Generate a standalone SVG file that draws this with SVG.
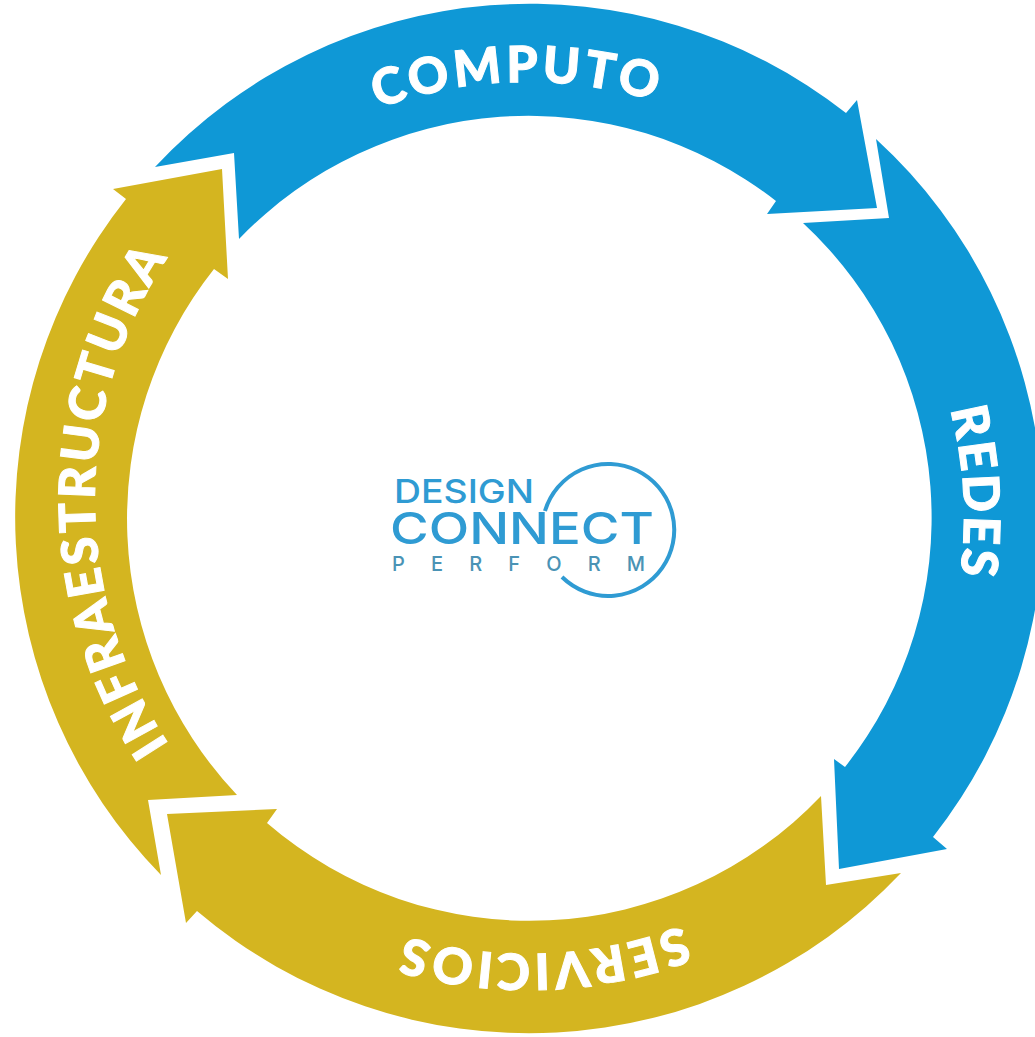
<svg xmlns="http://www.w3.org/2000/svg" width="1035" height="1037" viewBox="0 0 1035 1037">
<style>
.blue{fill:#0f98d6}
.gold{fill:#d4b520}
.label{font-family:Lato,"Open Sans","Liberation Sans",sans-serif;font-weight:900;font-size:50px;fill:#fff;stroke:#fff;stroke-width:1;text-anchor:middle}
.logo{font-family:Inter,"Liberation Sans",sans-serif;font-weight:500;fill:#2f9bd3}
</style>
<defs>
<path id="p1" d="M184.4 249.6A436 436 0 0 1 852 226.3"/>
<path id="p2" d="M788.6 168.4A436 436 0 0 1 827 835.3"/>
<path id="p3" d="M871.6 786.4A436 436 0 0 1 204 809.7"/>
<path id="p4" d="M384.5 913.5A440 440 0 0 1 384.5 86.5"/>
</defs>
<rect width="1035" height="1037" fill="#fff"/>
<g id="connectors">
<path class="blue" d="M155 167A512 512 0 0 1 846 113L857 100L877 208L767 214L776 201A402 402 0 0 0 239 239L234 153Z"/>
<path class="blue" d="M876 139A515 515 0 0 1 933 837L947 849L839 869L834 759L845 767A402 402 0 0 0 803 223L889 218Z"/>
<path class="gold" d="M901 873A512 512 0 0 1 197 911L186 923L167 814L277 809L267 823A402 402 0 0 0 821 796L826 885Z"/>
<path class="gold" d="M161 875A512 512 0 0 1 126 199L113 189L222 169L228 279L214 269A402 402 0 0 0 237 795L148 800Z"/>
</g>
<g id="computo"><text class="label" letter-spacing="3.8"><textPath href="#p1" startOffset="50.6%">COMPUTO</textPath></text></g>
<g id="redes"><text class="label" letter-spacing="2.8"><textPath href="#p2" startOffset="50%">REDES</textPath></text></g>
<g id="servicios"><text class="label" letter-spacing="3.4"><textPath href="#p3" startOffset="50%">SERVICIOS</textPath></text></g>
<g id="infraestructura"><text class="label" letter-spacing="3"><textPath href="#p4" startOffset="50%">INFRAESTRUCTURA</textPath></text></g>
<g id="logo">
<path d="M562 577A66 66 0 1 0 545 511" fill="none" stroke="#2f9bd3" stroke-width="4"/>
<text class="logo" x="394" y="503" font-size="33" textLength="140" lengthAdjust="spacingAndGlyphs">DESIGN</text>
<text class="logo" x="390" y="544" font-size="44" textLength="264" lengthAdjust="spacingAndGlyphs">CONNECT</text>
<text class="logo" x="392" y="571" font-size="20" textLength="253" style="fill:#4a93b5">PERFORM</text>
</g>
</svg>
